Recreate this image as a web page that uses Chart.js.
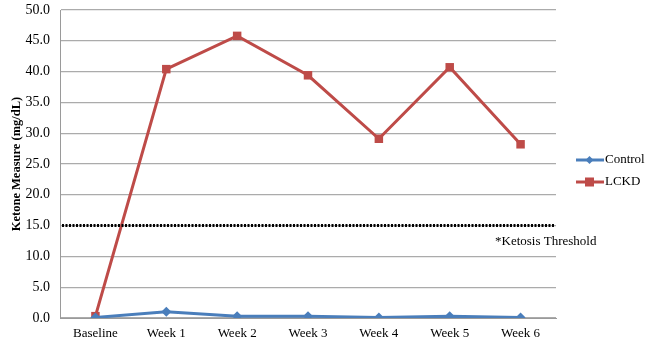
<!DOCTYPE html>
<html>
<head>
<meta charset="utf-8">
<script src="https://cdn.jsdelivr.net/npm/chart.js@4/dist/chart.umd.min.js"></script>
<style>
  html, body { margin: 0; padding: 0; background: #fff; }
  #wrap { width: 650px; height: 343px; }
</style>
</head>
<body>
<div id="wrap"><canvas id="c" width="650" height="343"></canvas></div>
<script>
// Ketone measurements over the study period
const weeks = ['Baseline', 'Week 1', 'Week 2', 'Week 3', 'Week 4', 'Week 5', 'Week 6'];
const controlValues = [0.1, 1.0, 0.3, 0.3, 0.1, 0.3, 0.1];
const lckdValues = [0.3, 40.4, 45.8, 39.4, 29.1, 40.7, 28.2];
const ketosisThreshold = 15;
const thresholdLabel = '*Ketosis Threshold';
const yTicks = { min: 0, max: 50, step: 5 };

const FONT = "'Liberation Serif', 'Times New Roman', serif";
const BLUE = '#4a7ebb';
const RED = '#be4b48';

// Dotted threshold line, its caption, and the legend on the right
const extras = {
  id: 'extras',
  afterDatasetsDraw(chart) {
    const { ctx, chartArea, scales } = chart;
    const y = scales.y.getPixelForValue(ketosisThreshold);
    ctx.save();
    ctx.strokeStyle = '#000';
    ctx.lineWidth = 3;
    ctx.setLineDash([2, 1.5]);
    ctx.beginPath();
    ctx.moveTo(chartArea.left + 2, y);
    ctx.lineTo(chartArea.right - 1, y);
    ctx.stroke();
    ctx.setLineDash([]);

    ctx.fillStyle = '#000';
    ctx.font = '13px ' + FONT;
    ctx.textBaseline = 'middle';
    ctx.textAlign = 'left';
    ctx.fillText(thresholdLabel, 495, y + 16);

    // legend entries: line with marker, then label
    const entries = [
      { label: 'Control', color: BLUE, style: 'diamond', yy: 160 },
      { label: 'LCKD', color: RED, style: 'square', yy: 182 }
    ];
    entries.forEach(e => {
      ctx.strokeStyle = e.color;
      ctx.lineWidth = 3;
      ctx.beginPath();
      ctx.moveTo(576, e.yy);
      ctx.lineTo(604, e.yy);
      ctx.stroke();
      ctx.fillStyle = e.color;
      if (e.style === 'square') {
        ctx.fillRect(585, e.yy - 4.5, 9, 9);
      } else {
        ctx.beginPath();
        ctx.moveTo(589.5, e.yy - 4);
        ctx.lineTo(593.5, e.yy);
        ctx.lineTo(589.5, e.yy + 4);
        ctx.lineTo(585.5, e.yy);
        ctx.closePath();
        ctx.fill();
      }
      ctx.fillStyle = '#000';
      ctx.font = '13px ' + FONT;
      ctx.fillText(e.label, 605, e.yy);
    });
    ctx.restore();
  }
};

new Chart(document.getElementById('c'), {
  type: 'line',
  data: {
    labels: weeks,
    datasets: [
      {
        label: 'Control',
        data: controlValues,
        borderColor: BLUE,
        backgroundColor: BLUE,
        borderWidth: 3,
        pointStyle: 'rectRot',
        pointRadius: 5,
        pointBorderWidth: 0,
        tension: 0
      },
      {
        label: 'LCKD',
        data: lckdValues,
        borderColor: RED,
        backgroundColor: RED,
        borderWidth: 3,
        pointStyle: 'rect',
        pointRadius: 6,
        pointBorderWidth: 0,
        tension: 0
      }
    ]
  },
  options: {
    responsive: false,
    animation: false,
    layout: { padding: { top: 10, right: 94, left: 0, bottom: 0 } },
    plugins: {
      legend: { display: false },
      tooltip: { enabled: false }
    },
    scales: {
      x: {
        offset: true,
        grid: { display: false, drawTicks: false },
        border: { display: true, color: '#9a9a9a', width: 1 },
        ticks: {
          color: '#000',
          font: { family: FONT, size: 13 },
          padding: 8,
          maxRotation: 0
        },
        afterFit(s) { s.height = 25; s.paddingLeft = 0; s.paddingRight = 0; }
      },
      y: {
        min: yTicks.min,
        max: yTicks.max,
        grid: { color: '#ababab', lineWidth: 1.3, drawTicks: false },
        border: { display: true, color: '#9a9a9a', width: 1 },
        ticks: {
          stepSize: yTicks.step,
          color: '#000',
          font: { family: FONT, size: 14 },
          padding: 10,
          callback: v => v.toFixed(1)
        },
        title: {
          display: true,
          text: 'Ketone Measure (mg/dL)',
          color: '#000',
          font: { family: FONT, size: 12.5, weight: 'bold' },
          padding: { top: 9, bottom: 2 }
        },
        afterFit(s) { s.width = 60; s.paddingTop = 0; s.paddingBottom = 0; }
      }
    }
  },
  plugins: [extras]
});
</script>
</body>
</html>
